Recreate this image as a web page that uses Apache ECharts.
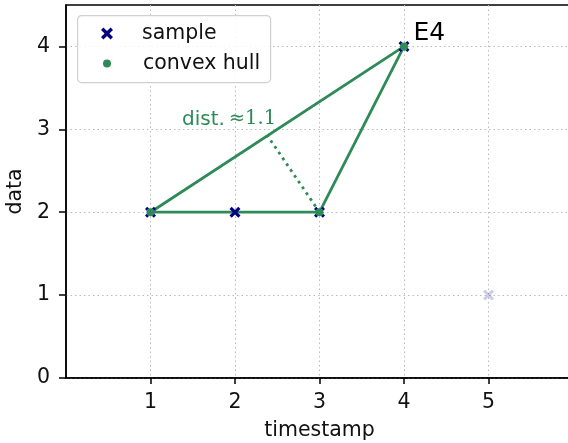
<!DOCTYPE html>
<html>
<head>
<meta charset="utf-8">
<script src="https://cdn.jsdelivr.net/npm/echarts@6/dist/echarts.min.js"></script>
<style>
  html, body { margin: 0; padding: 0; background: #fff; }
  #chart { width: 568px; height: 443px; }
</style>
</head>
<body>
<div id="chart"></div>
<script>
// Sample points (timestamp, data)
const samplePoints = [[1, 2], [2, 2], [3, 2], [4, 4]];
// Point left out of the hull, drawn faded
const fadedPoints = [[5, 1]];
// Vertices of the convex hull, in drawing order
const hullVertices = [[1, 2], [3, 2], [4, 4]];
const xTicks = [1, 2, 3, 4, 5];
const yTicks = [0, 1, 2, 3, 4];
const labelledPoint = 'E4';

const GREEN = '#2e8b57';
const NAVY = '#000080';
const FONT = 'DejaVu Sans';
const FS = 20.5;
const CROSS = 'path://M2,0 L5,3 L8,0 L10,2 L7,5 L10,8 L8,10 L5,7 L2,10 L0,8 L3,5 L0,2 Z';

// Closed outline of the hull
const hullOutline = hullVertices.concat([hullVertices[0]]);

// Perpendicular from the middle vertex to the opposite hull edge
const A = hullVertices[0], B = hullVertices[2], P = hullVertices[1];
const dx = B[0] - A[0], dy = B[1] - A[1];
const t = ((P[0] - A[0]) * dx + (P[1] - A[1]) * dy) / (dx * dx + dy * dy);
const foot = [A[0] + t * dx, A[1] + t * dy];
const dist = Math.hypot(P[0] - foot[0], P[1] - foot[1]);
const distSegment = [P, foot];
const distLabelAt = [1.93, 3.12];

const chart = echarts.init(document.getElementById('chart'), null, { renderer: 'canvas' });

chart.setOption({
  animation: false,
  backgroundColor: '#fff',
  textStyle: { fontFamily: FONT },
  grid: {
    left: 66, top: 5, right: -5, bottom: 65,
    outerBoundsMode: 'none', containLabel: false,
    show: true, borderColor: '#000', borderWidth: 1.5, backgroundColor: 'transparent'
  },
  xAxis: {
    type: 'value', min: 0, max: 6, interval: 1,
    name: 'timestamp', nameLocation: 'middle', nameGap: 42,
    nameTextStyle: { fontFamily: FONT, fontSize: FS, color: '#111' },
    axisLine: { show: true, onZero: false, lineStyle: { color: '#000', width: 1.5 } },
    axisTick: { show: true, length: 6, customValues: xTicks, lineStyle: { color: '#000', width: 1.5 } },
    axisLabel: { customValues: xTicks, margin: 14, fontFamily: FONT, fontSize: FS, color: '#111' },
    splitLine: { show: true, lineStyle: { color: '#bbbbbb', width: 1, type: [1.5, 3] } }
  },
  yAxis: {
    type: 'value', min: 0, max: 4.5, interval: 1,
    name: 'data', nameLocation: 'middle', nameGap: 28, nameRotate: 90,
    nameTextStyle: { fontFamily: FONT, fontSize: FS, color: '#111' },
    axisLine: { show: true, onZero: false, lineStyle: { color: '#000', width: 1.5 } },
    axisTick: { show: true, length: 7, customValues: yTicks, lineStyle: { color: '#000', width: 1.5 } },
    axisLabel: { customValues: yTicks, margin: 16, fontFamily: FONT, fontSize: FS, color: '#111' },
    splitLine: { show: true, lineStyle: { color: '#bbbbbb', width: 1, type: [1.5, 3] } }
  },
  graphic: [{
    type: 'rect', left: 77, top: 15, z: 100,
    shape: { width: 193, height: 67, r: 4 },
    style: { fill: 'rgba(255,255,255,0.85)', stroke: '#d0d0d0', lineWidth: 1.2 }
  }],
  legend: [
    {
      data: [{ name: 'sample', icon: CROSS }],
      left: 101, top: 23, padding: 0, z: 110,
      itemWidth: 12, itemHeight: 12,
      textStyle: { fontFamily: FONT, fontSize: FS, color: '#111', padding: [0, 0, 0, 24], lineHeight: 21 },
      selectedMode: false
    },
    {
      data: [{ name: 'convex hull', icon: 'circle' }],
      left: 103, top: 53, padding: 0, z: 110,
      itemWidth: 8, itemHeight: 8,
      textStyle: { fontFamily: FONT, fontSize: FS, color: '#111', padding: [0, 0, 0, 27], lineHeight: 21 },
      selectedMode: false
    }
  ],
  series: [
    {
      name: 'hull edge', type: 'line', data: hullOutline, z: 2,
      showSymbol: false, symbol: 'none',
      lineStyle: { color: GREEN, width: 2.8 }, silent: true
    },
    {
      name: 'distance', type: 'line', data: distSegment, z: 2,
      showSymbol: false, symbol: 'none',
      lineStyle: { color: GREEN, width: 2.8, type: [2.8, 4.2] }, silent: true
    },
    {
      name: 'sample', type: 'scatter', symbol: CROSS, symbolSize: 11, z: 3,
      itemStyle: { color: NAVY, opacity: 1 },
      data: samplePoints.map(p => {
        const item = { value: p };
        if (p[0] === 4 && p[1] === 4) {
          item.label = {
            show: true, formatter: labelledPoint, position: [15, -7],
            align: 'left', verticalAlign: 'middle',
            fontFamily: FONT, fontSize: 25, color: '#000'
          };
        }
        return item;
      })
    },
    {
      name: 'sample', type: 'scatter', symbol: CROSS, symbolSize: 11, z: 3,
      itemStyle: { color: NAVY, opacity: 0.2 },
      data: fadedPoints
    },
    {
      name: 'convex hull', type: 'scatter', symbol: 'circle', symbolSize: 8, z: 4,
      itemStyle: { color: GREEN, opacity: 1 },
      data: hullVertices
    },
    {
      name: 'distance label', type: 'scatter', symbolSize: 0, z: 5, silent: true,
      itemStyle: { opacity: 1 },
      data: [distLabelAt],
      label: {
        show: true, position: 'inside',
        formatter: '{a|dist.} {b|≈' + dist.toFixed(1) + '}',
        rich: {
          a: { fontFamily: FONT, fontSize: 20, color: GREEN },
          b: { fontFamily: 'DejaVu Serif', fontSize: 19.5, color: GREEN }
        }
      }
    }
  ]
});
</script>
</body>
</html>
